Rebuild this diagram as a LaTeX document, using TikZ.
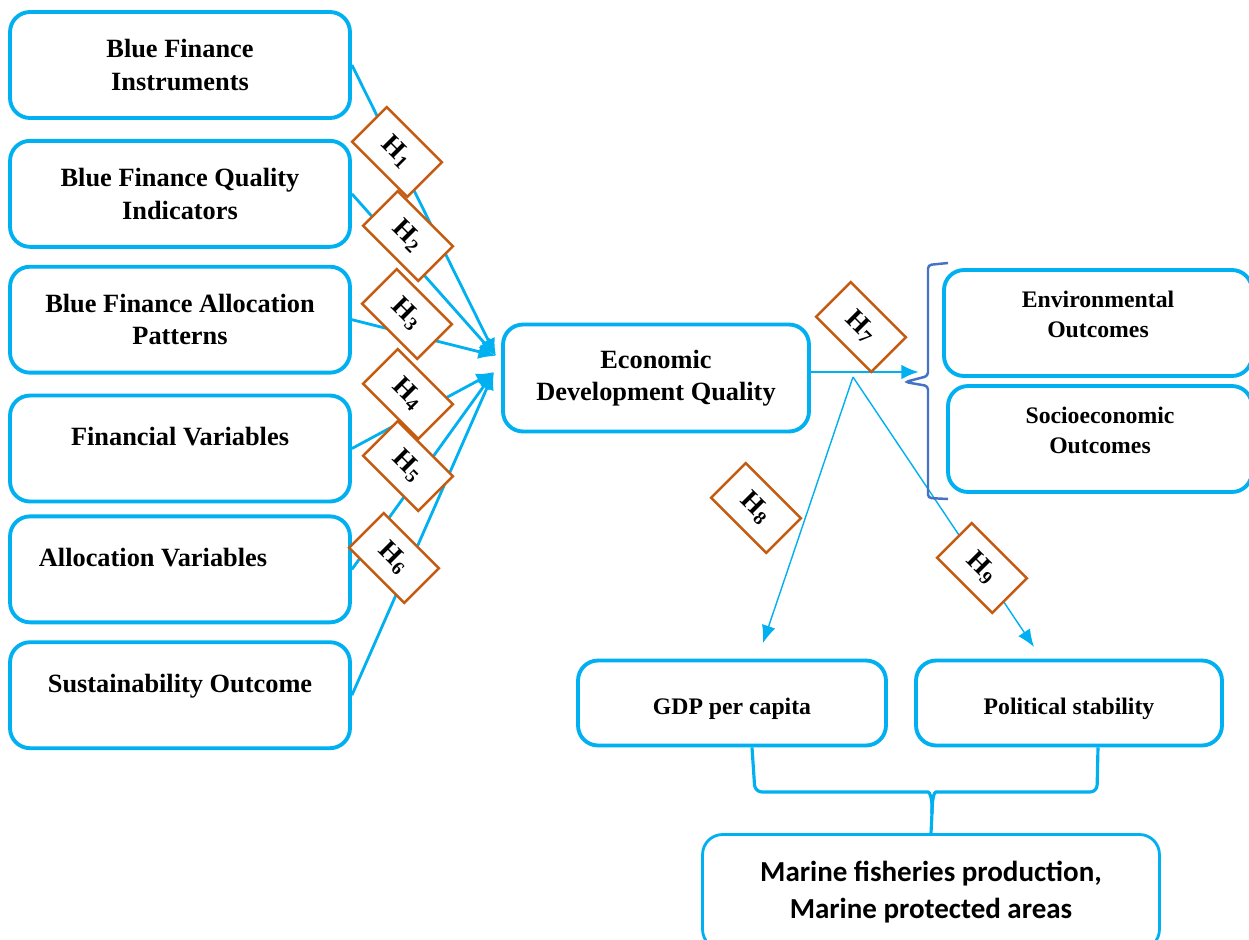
\documentclass[tikz,border=0pt]{standalone}
\usepackage{fontspec}
\setmainfont{Liberation Serif}
\newfontfamily\calibrifont{Carlito}
\usepackage{tikz}
\usetikzlibrary{positioning}
\usetikzlibrary{arrows.meta,calc}
\definecolor{ColorLine}{RGB}{0,176,240}
\definecolor{ColorHyp}{RGB}{197,90,17}
\definecolor{ColorBrace}{RGB}{68,114,196}

\begin{document}
\begin{tikzpicture}[x=0.02cm, y=-0.02cm,
	ob/.style={rectangle, draw=ColorLine, line width=2.2pt, rounded corners=0.4cm, minimum width=6.8cm, minimum height=2.12cm, inner sep=1mm, align=center, font=\fontsize{15}{18.5}\selectfont\bfseries},
	single/.style={text depth=0.48cm},
	res/.style={ob, font=\fontsize{13.5}{17}\selectfont\bfseries},
	hyp/.style={rectangle, draw=ColorHyp, fill=white, line width=1.4pt, minimum width=1.56cm, minimum height=0.98cm, inner sep=0mm, rotate=-45, font=\fontsize{15.5}{18}\selectfont\bfseries},
	post/.style={->, draw=ColorLine, line width=1.6pt, >={Latex[length=10pt,width=8.5pt]}},
	thin/.style={->, draw=ColorLine, line width=0.8pt, >={Latex[length=10pt,width=8pt]}},
	brc/.style={draw=ColorLine, line width=1.8pt, rounded corners=4pt}]

	\useasboundingbox (0,0) rectangle (1249,940);
	\clip (0,0) rectangle (1249,940);

	% Blue finance side
	\node[ob] (b1) at (180,65) {Blue Finance\\Instruments};
	\node[ob, below = 0.38cm of b1] (b2) {Blue Finance Quality\\Indicators};
	\node[ob, below = 0.32cm of b2] (b3) {Blue Finance Allocation\\Patterns};
	\node[ob, single, below = 0.38cm of b3] (b4) {Financial Variables};
	\node[ob, single, below = 0.22cm of b4] (b5) {Allocation Variables\rule{1.08cm}{0pt}};
	\node[ob, single, below = 0.32cm of b5] (b6) {Sustainability Outcome};

	% Economic development quality
	\node[ob, minimum width=6.12cm, minimum height=2.14cm] (edq) at (656,378) {Economic\\Development Quality};

	% Outcomes
	\node[res, text depth=0.36cm, minimum width=6.16cm] (env) at (1098,323) {Environmental\\Outcomes};
	\node[res, text depth=0.34cm, minimum width=6.08cm] (soc) at (1100,439) {Socioeconomic\\Outcomes};
	\node[res, text height=0.57cm, minimum width=6.16cm, minimum height=1.7cm] (gdp) at (732,703) {GDP per capita};
	\node[res, text height=0.57cm, minimum width=6.12cm, minimum height=1.7cm] (pol) at (1069,703) {Political stability};
	\node[ob, line width=1.6pt, minimum width=9.14cm, minimum height=2.3cm, font=\calibrifont\fontsize{16.5}{21.5}\selectfont\bfseries] (marine) at (931,892) {Marine fisheries production,\\Marine protected areas};

	\coordinate (tipA) at (496,356);
	\coordinate (tipB) at (494,372);
	\coordinate (split) at (853,377);
	\coordinate (t8) at (763,643);
	\coordinate (t9) at (1034,647);

	\path[post] (b1.east) to (tipA);
	\path[post] (b2.east) to (tipA);
	\path[post] (b3.east) to (tipA);
	\path[post] (b4.east) to (tipB);
	\path[post] (b5.east) to (tipB);
	\path[post] (b6.east) to (tipB);

	\path[post] ([yshift=0.12cm]edq.east) to ++(108,0);
	\path[thin] (split) to (t8);
	\path[thin] (split) to (t9);

	% braces
	\draw[draw=ColorBrace, line width=1.4pt, rounded corners=2pt] (948,263) -- (928,265) -- (928,376) -- (905,382) -- (928,386) -- (928,498) -- (948,499);
	\draw[brc] ([xshift=0.4cm]gdp.south) -- (755,792) -- (921,792) .. controls (930,792) and (932,799) .. (932,814) -- (marine.north);
	\draw[brc] (932,814) .. controls (932,799) and (934,792) .. (943,792) -- (1097,792) -- ([xshift=0.58cm]pol.south);

	% Hypotheses
	\node[hyp] (h1) at (397,152) {H\textsubscript{1}};
	\node[hyp] (h2) at (408,236) {H\textsubscript{2}};
	\node[hyp] (h3) at (407,314) {H\textsubscript{3}};
	\node[hyp] (h4) at (408,394) {H\textsubscript{4}};
	\node[hyp] (h5) at (408,466) {H\textsubscript{5}};
	\node[hyp] (h6) at (394,558) {H\textsubscript{6}};
	\node[hyp] (h7) at (861,327) {H\textsubscript{7}};
	\node[hyp] (h8) at (756,508) {H\textsubscript{8}};
	\node[hyp] (h9) at (982,568) {H\textsubscript{9}};
\end{tikzpicture}
\end{document}
